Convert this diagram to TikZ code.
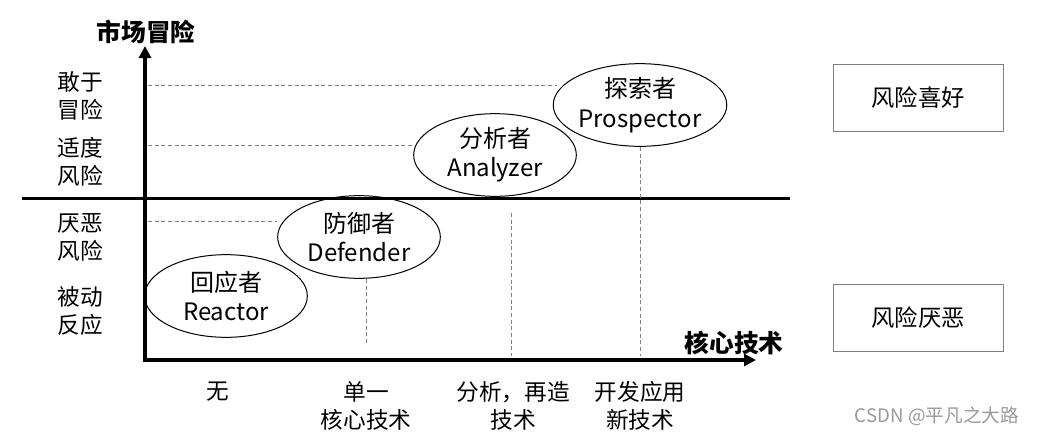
\documentclass[tikz,border=0pt]{standalone}
\usepackage{fontspec}
\setmainfont{Noto Sans CJK SC}
\usetikzlibrary{arrows.meta,positioning,shapes.geometric}

\begin{document}
\begin{tikzpicture}[
    x=0.75pt, y=-0.75pt,
    axis/.style={-{Triangle[length=9pt,width=9pt]}, line width=3pt},
    guide/.style={densely dashed, gray, line width=0.6pt},
    strat/.style={draw, ellipse, line width=0.75pt, minimum width=122pt, minimum height=62pt, inner sep=0pt, align=center, font=\fontsize{18}{22}\selectfont},
    level/.style={align=center, font=\fontsize{17}{21}\selectfont},
    title/.style={font=\fontsize{18.5}{22}\selectfont\bfseries},
    riskbox/.style={draw=gray, line width=0.75pt, minimum width=127.5pt, minimum height=50pt, font=\fontsize{17.5}{21}\selectfont}
  ]
    \useasboundingbox (0,0) rectangle (1038,439);
    % axes and risk divider
    \coordinate (O) at (145,360);
    \coordinate (ytip) at (145,46);
    \coordinate (xtip) at (756,360);
    \draw[line width=2.25pt] (22,198) -- (790,198);
    \draw[axis] ([yshift=-1.5pt]O) -- (ytip);
    \draw[axis] ([xshift=-1.5pt]O) -- (xtip);
    \node[title] (ylab) at (146,32) {市场冒险};
    \node[title] (xlab) at (734,343) {核心技术};
    % guide lines
    \draw[guide] (148,85) -- (557,85);
    \draw[guide] (148,145) -- (412,145);
    \draw[guide] (148,221) -- (277,221);
    \draw[guide] (366,279) -- (366,345);
    \draw[guide] (511,213) -- (511,356);
    \draw[guide] (640,147) -- (640,356);
    % strategy types
    \node[strat] (rea) at (226,296) {回应者\\Reactor};
    \node[strat] (def) at (359,237) {防御者\\Defender};
    \node[strat] (ana) at (495,155) {分析者\\Analyzer};
    \node[strat] (pro) at (640,105) {探索者\\Prospector};
    % risk levels
    \node[level] (l4) at (80,96) {敢于\\冒险};
    \node[level] (l3) at (80,162) {适度\\风险};
    \node[level] (l2) at (80,237) {厌恶\\风险};
    \node[level] (l1) at (80,311) {被动\\反应};
    % technology levels
    \node[level, anchor=north] (t1) at (218,377) {无};
    \node[level, anchor=north] (t2) at (366,377) {单一\\核心技术};
    \node[level, anchor=north] (t3) at (513,377) {分析，再造\\技术};
    \node[level, anchor=north] (t4) at (640,377) {开发应用\\新技术};
    % risk attitude
    \node[riskbox] (like) at (918,98) {风险喜好};
    \node[riskbox] (hate) at (918,318) {风险厌恶};
    \node[font=\fontsize{14}{16}\selectfont, text=gray!80] (mark) at (937,416) {CSDN @平凡之大路};
\end{tikzpicture}
\end{document}
